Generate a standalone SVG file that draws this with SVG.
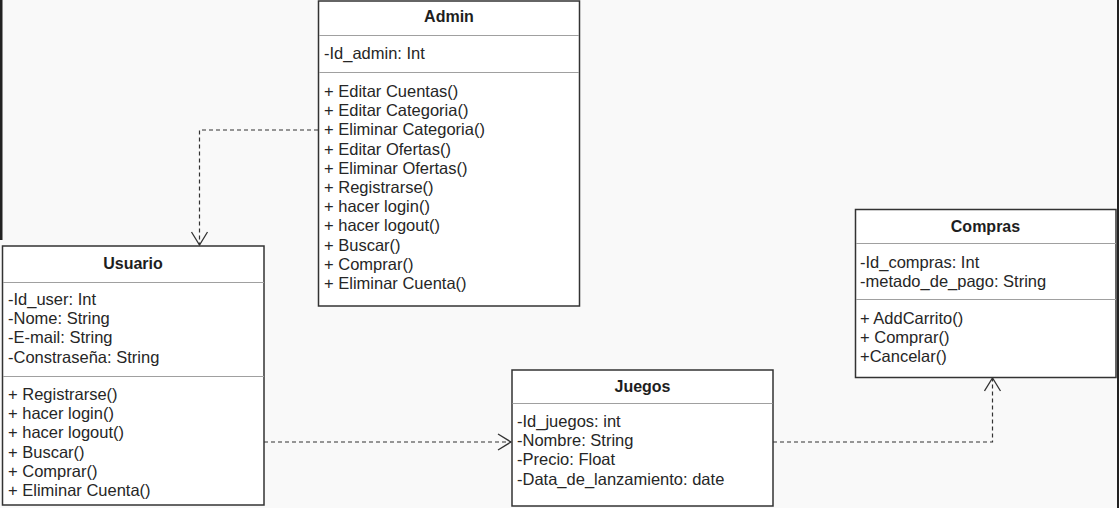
<svg xmlns="http://www.w3.org/2000/svg" width="1119" height="508" viewBox="0 0 1119 508">
<style>
.box{fill:#ffffff;stroke:#333333;stroke-width:1.5}
.div{stroke:#a0a0a0;stroke-width:1}
.t{font-family:"Liberation Sans",Arial,sans-serif;font-size:16.5px;fill:#262626}
.h{font-family:"Liberation Sans",Arial,sans-serif;font-size:16px;font-weight:bold;fill:#1e1e1e;text-anchor:middle}
.c{fill:none;stroke:#333333;stroke-width:1.2;stroke-dasharray:4 3}
</style>
<defs>
<marker id="open" markerWidth="18" markerHeight="20" refX="14" refY="9" orient="auto" markerUnits="userSpaceOnUse">
<path d="M1,1 L14,9 L1,17" fill="none" stroke="#333333" stroke-width="1.3"/>
</marker>
</defs>
<rect x="0" y="0" width="1119" height="508" fill="#f9f9f9"/>
<rect x="0" y="0" width="2.5" height="240" fill="#222222"/>
<rect x="1117" y="0" width="2" height="508" fill="#222222"/>

<g id="connectors">
<path class="c" d="M318,130 H199.5 V245" marker-end="url(#open)"/>
<path class="c" d="M264,442 H511" marker-end="url(#open)"/>
<path class="c" d="M773,442 H992.5 V378" marker-end="url(#open)"/>
</g>

<g id="admin">
<rect class="box" x="318.5" y="1" width="261" height="305"/>
<text class="h" x="449" y="22">Admin</text>
<line class="div" x1="319" y1="35.5" x2="579" y2="35.5"/>
<text class="t" x="324" y="59">-Id_admin: Int</text>
<line class="div" x1="319" y1="72.5" x2="579" y2="72.5"/>
<text class="t" x="324" y="97">+ Editar Cuentas()</text>
<text class="t" x="324" y="116.2">+ Editar Categoria()</text>
<text class="t" x="324" y="135.4">+ Eliminar Categoria()</text>
<text class="t" x="324" y="154.6">+ Editar Ofertas()</text>
<text class="t" x="324" y="173.8">+ Eliminar Ofertas()</text>
<text class="t" x="324" y="193">+ Registrarse()</text>
<text class="t" x="324" y="212.2">+ hacer login()</text>
<text class="t" x="324" y="231.4">+ hacer logout()</text>
<text class="t" x="324" y="250.6">+ Buscar()</text>
<text class="t" x="324" y="269.8">+ Comprar()</text>
<text class="t" x="324" y="289">+ Eliminar Cuenta()</text>
</g>

<g id="usuario">
<rect class="box" x="2.5" y="246" width="261.5" height="259"/>
<text class="h" x="133" y="269">Usuario</text>
<line class="div" x1="3" y1="282.5" x2="264" y2="282.5"/>
<text class="t" x="8" y="305">-Id_user: Int</text>
<text class="t" x="8" y="324.2">-Nome: String</text>
<text class="t" x="8" y="343.4">-E-mail: String</text>
<text class="t" x="8" y="362.6">-Constraseña: String</text>
<line class="div" x1="3" y1="376.5" x2="264" y2="376.5"/>
<text class="t" x="8" y="400">+ Registrarse()</text>
<text class="t" x="8" y="419.2">+ hacer login()</text>
<text class="t" x="8" y="438.4">+ hacer logout()</text>
<text class="t" x="8" y="457.6">+ Buscar()</text>
<text class="t" x="8" y="476.8">+ Comprar()</text>
<text class="t" x="8" y="496">+ Eliminar Cuenta()</text>
</g>

<g id="juegos">
<rect class="box" x="512" y="370" width="261" height="136"/>
<text class="h" x="642.5" y="392">Juegos</text>
<line class="div" x1="512.5" y1="403.5" x2="772.5" y2="403.5"/>
<text class="t" x="517" y="427">-Id_juegos: int</text>
<text class="t" x="517" y="446.2">-Nombre: String</text>
<text class="t" x="517" y="465.4">-Precio: Float</text>
<text class="t" x="517" y="484.6">-Data_de_lanzamiento: date</text>
</g>

<g id="compras">
<rect class="box" x="855.5" y="209.5" width="260.5" height="168"/>
<text class="h" x="985.5" y="232">Compras</text>
<line class="div" x1="856" y1="243.5" x2="1116" y2="243.5"/>
<text class="t" x="860" y="268">-Id_compras: Int</text>
<text class="t" x="860" y="287.2">-metado_de_pago: String</text>
<line class="div" x1="856" y1="299.5" x2="1116" y2="299.5"/>
<text class="t" x="860" y="324">+ AddCarrito()</text>
<text class="t" x="860" y="343.2">+ Comprar()</text>
<text class="t" x="860" y="362.4">+Cancelar()</text>
</g>
</svg>
